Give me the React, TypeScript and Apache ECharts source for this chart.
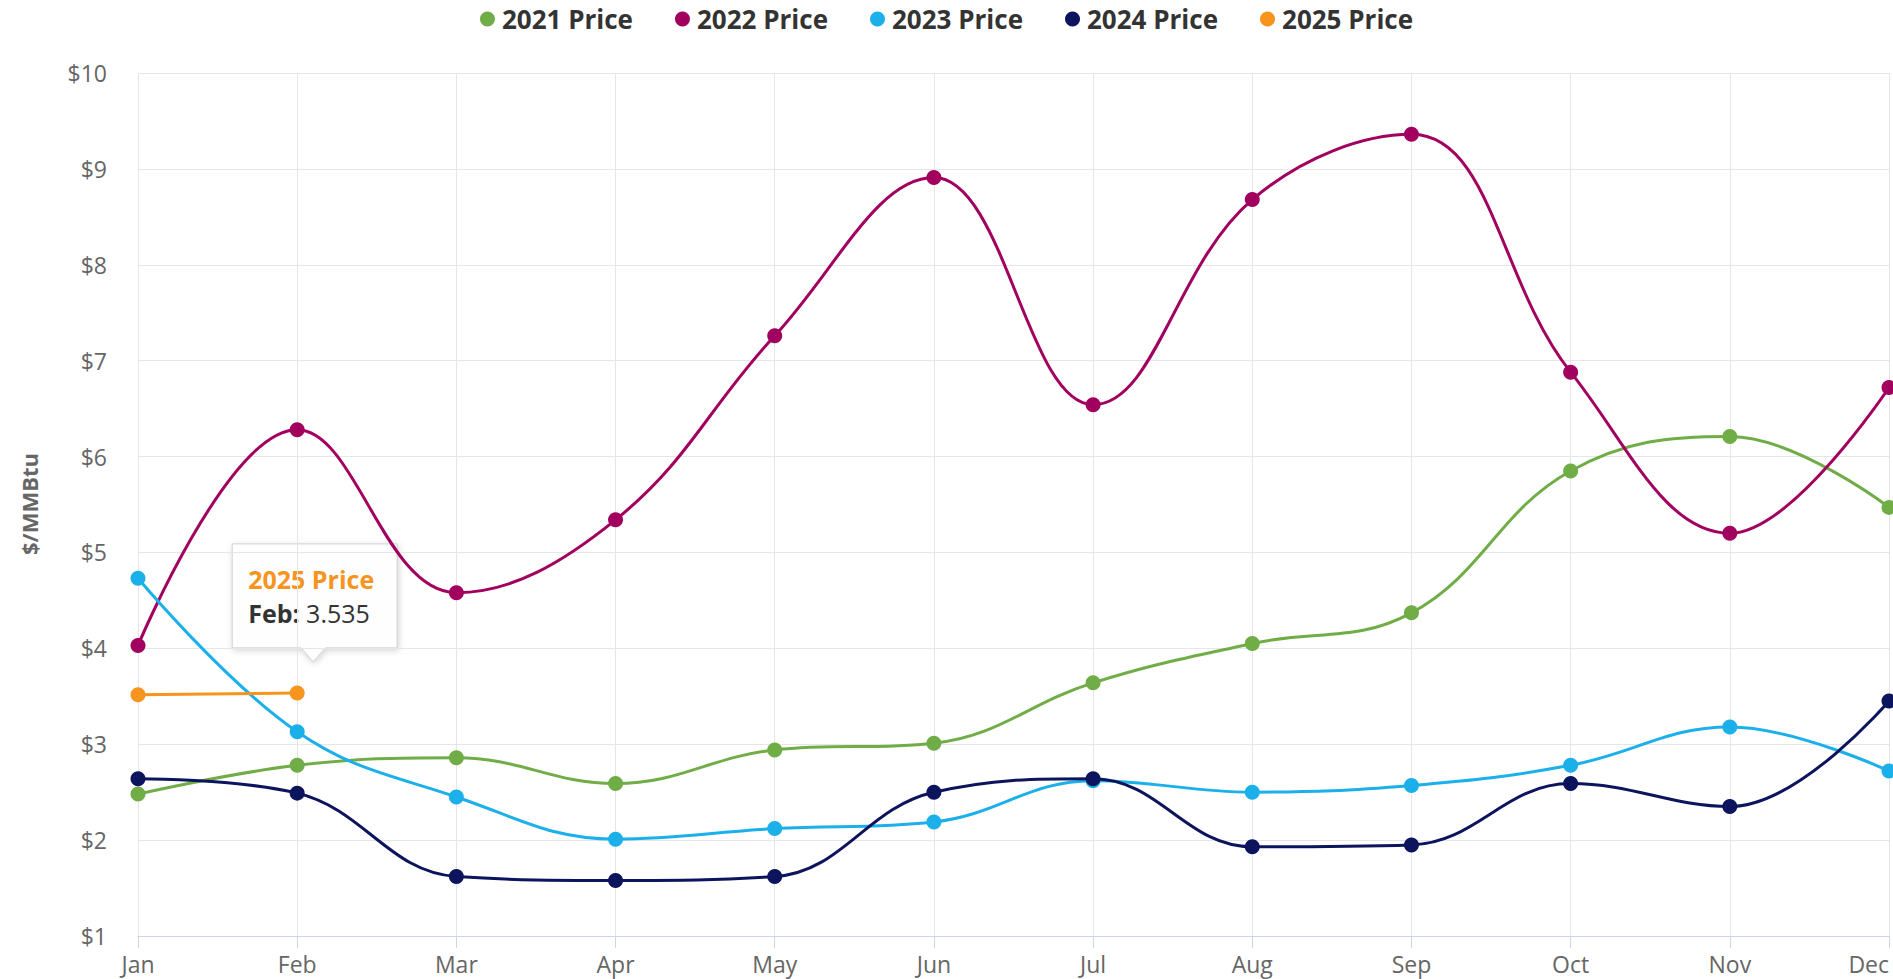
import React, { useEffect, useRef } from "react";
import * as echarts from "echarts";

const months = ["Jan", "Feb", "Mar", "Apr", "May", "Jun", "Jul", "Aug", "Sep", "Oct", "Nov", "Dec"];
const seriesNames = ["2021 Price", "2022 Price", "2023 Price", "2024 Price", "2025 Price"];
const colors = ["#70ad47", "#a1005e", "#1cb0ea", "#0b145c", "#f7941d"];
const price2021 = [2.48, 2.78, 2.86, 2.59, 2.94, 3.01, 3.64, 4.05, 4.37, 5.85, 6.21, 5.47];
const price2022 = [4.03, 6.28, 4.58, 5.34, 7.26, 8.91, 6.54, 8.68, 9.36, 6.88, 5.2, 6.72];
const price2023 = [4.73, 3.13, 2.45, 2.01, 2.12, 2.19, 2.62, 2.5, 2.57, 2.78, 3.18, 2.72];
const price2024 = [2.64, 2.49, 1.62, 1.58, 1.62, 2.5, 2.64, 1.93, 1.95, 2.59, 2.35, 3.45];
const price2025 = [3.515, 3.535];
const yTicks = { min: 1, max: 10, interval: 1 };
const axisTitle = "$/MMBtu";
const tooltipIndex = 1;

const FONT = "'Open Sans', sans-serif";

export default function App() {
  const ref = useRef<HTMLDivElement>(null);
  useEffect(() => {
    if (!ref.current) return;
    const chart = echarts.init(ref.current, undefined, { renderer: "svg" });
    const allData = [price2021, price2022, price2023, price2024, price2025];
    const option: any = {
      animation: false,
      backgroundColor: "#ffffff",
      legend: {
        top: 1,
        left: "center",
        icon: "circle",
        itemWidth: 15,
        itemHeight: 15,
        itemGap: 42,
        textStyle: { fontFamily: FONT, fontSize: 26, fontWeight: "bold", color: "#333333", padding: [0, 0, 0, 2] },
        data: seriesNames,
      },
      grid: { left: 138, right: 4, top: 73, bottom: 43, containLabel: false, outerBoundsMode: "none" },
      xAxis: {
        type: "category",
        data: months,
        boundaryGap: false,
        axisLine: { show: true, lineStyle: { color: "#ccd6eb", width: 1 } },
        axisTick: { show: true, length: 12, lineStyle: { color: "#ccd6eb" } },
        axisLabel: { fontFamily: FONT, fontSize: 23, color: "#666666", margin: 16, alignMaxLabel: "right" },
        splitLine: { show: true, lineStyle: { color: "#e6e6e6", width: 1 } },
      },
      yAxis: {
        type: "value",
        min: yTicks.min,
        max: yTicks.max,
        interval: yTicks.interval,
        axisLine: { show: false },
        axisTick: { show: false },
        axisLabel: {
          fontFamily: FONT,
          fontSize: 23,
          color: "#666666",
          margin: 31,
          formatter: (v: number) => "$" + v,
        },
        splitLine: { show: true, lineStyle: { color: "#e6e6e6", width: 1 } },
      },
      series: seriesNames.map((name, i) => ({
        name,
        type: "line",
        data: allData[i],
        smooth: 0.4,
        symbol: "circle",
        symbolSize: 15,
        showSymbol: true,
        lineStyle: { color: colors[i], width: 3 },
        itemStyle: { color: colors[i] },
        z: 2 + i,
      })),
      graphic: [
        {
          type: "text",
          x: 29,
          y: 504,
          rotation: Math.PI / 2,
          style: {
            text: axisTitle,
            fontFamily: FONT,
            fontSize: 22,
            fontWeight: "bold",
            fill: "#666666",
            align: "center",
            verticalAlign: "middle",
          },
        },
      ],
    };
    chart.setOption(option);

    const pt = chart.convertToPixel({ xAxisIndex: 0, yAxisIndex: 0 }, [months[tooltipIndex], price2025[tooltipIndex]]) as number[];
    if (pt) {
      const px = pt[0];
      const py = pt[1];
      const L = px - 65;
      const T = py - 149;
      const R = L + 165;
      const B = T + 104;
      const tipX = px + 16;
      const tipY = py - 31;
      chart.setOption({
        graphic: [
          option.graphic[0],
          {
            type: "group",
            z: 100,
            children: [
              {
                type: "polygon",
                shape: {
                  points: [
                    [L, T],
                    [R, T],
                    [R, B],
                    [tipX + 12, B],
                    [tipX, tipY],
                    [tipX - 12, B],
                    [L, B],
                  ],
                },
                style: {
                  fill: "rgba(255,255,255,0.96)",
                  stroke: "#cfcfcf",
                  lineWidth: 1,
                  shadowBlur: 6,
                  shadowColor: "rgba(0,0,0,0.18)",
                  shadowOffsetX: 1,
                  shadowOffsetY: 2,
                },
              },
              {
                type: "text",
                x: L + 16,
                y: T + 35,
                style: {
                  text: seriesNames[4],
                  fontFamily: FONT,
                  fontSize: 25,
                  fontWeight: "bold",
                  fill: colors[4],
                  verticalAlign: "middle",
                },
              },
              {
                type: "text",
                x: L + 16,
                y: T + 69,
                style: {
                  text: "{b|" + months[tooltipIndex] + ":} {v|" + price2025[tooltipIndex].toFixed(3) + "}",
                  fontFamily: FONT,
                  fontSize: 25,
                  verticalAlign: "middle",
                  rich: {
                    b: { fontFamily: FONT, fontSize: 25, fontWeight: "bold", fill: "#333333" },
                    v: { fontFamily: FONT, fontSize: 25, fill: "#333333" },
                  },
                },
              },
            ],
          },
        ],
      });
    }
    return () => chart.dispose();
  }, []);
  return <div ref={ref} style={{ position: "fixed", left: 0, top: 0, width: 1893, height: 979 }} />;
}
